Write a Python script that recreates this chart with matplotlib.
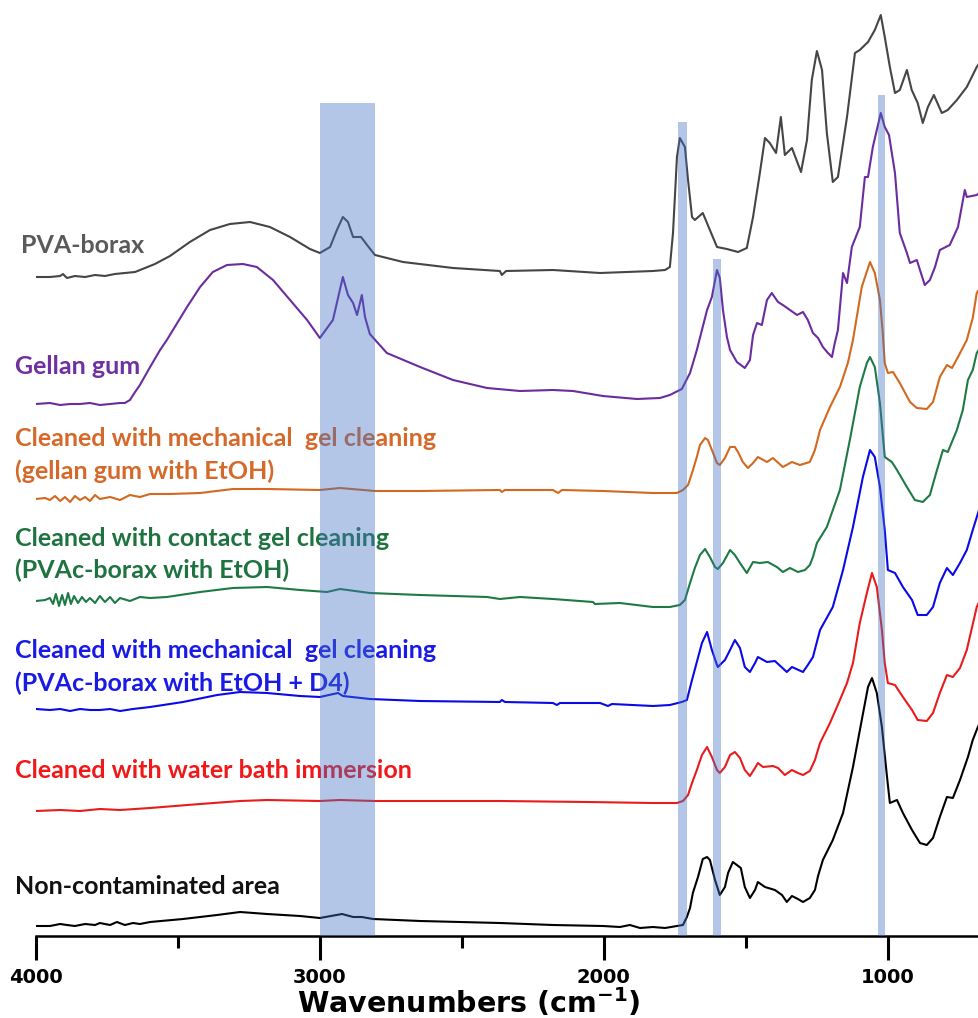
import matplotlib.pyplot as plt

# FTIR spectra; x = wavenumber (cm-1), y = absorbance (a.u., already offset for stacking)
pva_wn = [4000, 3951, 3915, 3905, 3891, 3863, 3827, 3792, 3757, 3722, 3687, 3651, 3616, 3581, 3528, 3458, 3387,
          3317, 3246, 3176, 3105, 3035, 3000, 2964, 2940, 2919, 2901, 2883, 2869, 2855, 2831, 2806, 2707, 2531,
          2366, 2359, 2344, 2179, 2013, 1827, 1784, 1767, 1756, 1742, 1732, 1714, 1703, 1689, 1679, 1651, 1626,
          1601, 1566, 1527, 1496, 1474, 1450, 1432, 1415, 1393, 1376, 1362, 1337, 1305, 1284, 1267, 1249, 1231,
          1214, 1193, 1175, 1143, 1115, 1098, 1069, 1045, 1024, 1010, 992, 974, 957, 932, 915, 894, 876, 858,
          837, 809, 788, 756, 721, 686, 657]
pva_ab = [659, 659, 660, 662, 658, 660, 659, 661, 660, 662, 663, 664, 668, 672, 680, 694, 706,
          712, 714, 709, 699, 687, 683, 689, 706, 719, 714, 699, 699, 699, 690, 681, 674, 668,
          665, 661, 665, 666, 663, 665, 666, 669, 703, 779, 798, 789, 756, 719, 716, 723, 706,
          689, 687, 684, 688, 719, 763, 798, 793, 783, 819, 781, 788, 764, 796, 856, 885, 866,
          803, 754, 759, 819, 883, 886, 894, 906, 921, 899, 869, 843, 846, 866, 846, 833, 813, 829,
          841, 823, 826, 836, 849, 869, 881]

gellan_wn = [4000, 3951, 3915, 3880, 3845, 3810, 3775, 3739, 3704, 3687, 3669, 3658, 3634, 3598, 3563, 3539,
             3468, 3422, 3377, 3327, 3271, 3222, 3165, 3105, 3045, 3000, 2954, 2919, 2901, 2883, 2869, 2852,
             2841, 2824, 2764, 2647, 2531, 2411, 2295, 2179, 2108, 2003, 1883, 1802, 1767, 1725, 1696, 1672,
             1654, 1636, 1619, 1601, 1591, 1580, 1566, 1555, 1531, 1503, 1485, 1474, 1460, 1443, 1425, 1408,
             1386, 1369, 1344, 1319, 1298, 1281, 1263, 1245, 1228, 1210, 1196, 1186, 1175, 1157, 1143, 1126,
             1098, 1080, 1069, 1052, 1024, 1010, 995, 974, 957, 932, 921, 897, 886, 869, 851, 833, 816, 781,
             752, 728, 721, 686, 657]
gellan_ab = [532, 533, 531, 532, 532, 533, 531, 532, 533, 533, 536, 541, 551, 569, 586, 596,
             629, 649, 664, 671, 672, 669, 656, 636, 616, 598, 616, 659, 641, 633, 621, 641,
             619, 602, 583, 569, 556, 548, 545, 546, 545, 540, 537, 538, 541, 547, 563, 586,
             606, 626, 639, 666, 658, 626, 599, 586, 574, 568, 576, 601, 613, 611, 636, 643,
             634, 631, 626, 621, 624, 616, 603, 598, 589, 583, 579, 593, 606, 663, 653, 689,
             709, 759, 759, 789, 823, 809, 801, 763, 703, 683, 673, 676, 666, 651, 656, 669, 686, 691,
             709, 746, 739, 741, 748]

mech_gg_wn = [4000, 3968, 3951, 3933, 3915, 3898, 3880, 3863, 3845, 3827, 3810, 3792, 3775, 3739, 3704, 3669,
              3634, 3598, 3528, 3422, 3306, 3186, 3000, 2929, 2806, 2647, 2366, 2359, 2348, 2179, 2161, 2147,
              2003, 1827, 1742, 1721, 1703, 1689, 1672, 1661, 1643, 1633, 1619, 1601, 1591, 1573, 1555, 1538,
              1527, 1510, 1492, 1474, 1457, 1425, 1404, 1369, 1337, 1309, 1274, 1256, 1238, 1203, 1168, 1140,
              1122, 1091, 1062, 1045, 1027, 1017, 1010, 999, 981, 957, 921, 897, 862, 840, 816, 791, 773, 752,
              721, 700, 686, 657]
mech_gg_ab = [437, 438, 436, 440, 435, 439, 434, 440, 436, 439, 435, 441, 437, 439, 436, 441,
              439, 442, 442, 443, 447, 447, 446, 448, 445, 445, 446, 444, 446, 446, 443, 446,
              445, 443, 443, 446, 451, 463, 479, 491, 498, 496, 486, 473, 471, 478, 489, 489,
              484, 474, 468, 473, 479, 474, 478, 469, 474, 471, 474, 486, 506, 529, 549, 573,
              596, 649, 674, 663, 636, 603, 573, 563, 564, 553, 534, 528, 527, 534, 559, 571, 568, 579,
              596, 618, 643, 656]

contact_wn = [4000, 3968, 3951, 3940, 3930, 3919, 3908, 3898, 3887, 3877, 3866, 3852, 3838, 3824, 3810, 3792,
              3775, 3757, 3739, 3722, 3704, 3669, 3634, 3598, 3539, 3422, 3306, 3186, 3070, 2975, 2929, 2824,
              2647, 2411, 2366, 2295, 2179, 2038, 2031, 1943, 1827, 1767, 1732, 1714, 1696, 1679, 1661, 1643,
              1626, 1608, 1598, 1580, 1555, 1538, 1520, 1496, 1474, 1450, 1422, 1390, 1369, 1344, 1316, 1291,
              1274, 1263, 1249, 1214, 1168, 1133, 1098, 1073, 1062, 1045, 1027, 1010, 985, 967, 932, 904, 876,
              851, 826, 805, 788, 756, 735, 717, 700, 686, 657]
contact_ab = [335, 336, 338, 332, 342, 330, 341, 331, 343, 332, 340, 333, 339, 334, 338, 333,
              340, 334, 339, 333, 338, 335, 339, 338, 339, 344, 348, 349, 346, 344, 347, 343,
              341, 339, 337, 339, 337, 334, 332, 333, 329, 329, 331, 336, 353, 368, 381, 387,
              379, 369, 367, 373, 386, 381, 373, 363, 374, 373, 374, 369, 364, 368, 364, 366,
              371, 379, 393, 409, 446, 496, 549, 573, 579, 569, 533, 479, 474, 466, 449, 436, 434,
              441, 466, 486, 484, 506, 526, 556, 566, 583, 596]

mech_d4_wn = [4000, 3951, 3915, 3880, 3845, 3810, 3775, 3739, 3704, 3658, 3598, 3482, 3362, 3281, 3186, 3070,
              3000, 2936, 2919, 2824, 2647, 2366, 2359, 2348, 2179, 2165, 2154, 2013, 1985, 1971, 1827, 1767,
              1725, 1707, 1689, 1672, 1654, 1636, 1619, 1601, 1598, 1573, 1555, 1538, 1520, 1503, 1485, 1467,
              1457, 1425, 1397, 1355, 1337, 1298, 1281, 1263, 1238, 1193, 1157, 1122, 1087, 1062, 1045, 1027,
              1010, 999, 974, 946, 914, 894, 862, 840, 816, 791, 770, 745, 721, 700, 678, 657]
mech_d4_ab = [227, 226, 227, 225, 227, 226, 226, 227, 225, 227, 229, 234, 241, 244, 243, 240,
              239, 243, 240, 237, 235, 234, 236, 234, 233, 231, 233, 233, 230, 232, 230, 231,
              234, 236, 256, 274, 293, 304, 286, 271, 269, 276, 286, 296, 288, 269, 264, 273,
              279, 274, 275, 264, 269, 264, 271, 279, 306, 329, 366, 409, 459, 486, 479, 449,
              406, 366, 363, 349, 336, 321, 321, 329, 353, 368, 361, 373, 386, 406, 426, 441]

water_wn = [4000, 3915, 3845, 3775, 3704, 3598, 3422, 3281, 3186, 3000, 2929, 2806, 2366, 2059, 1827, 1742,
            1721, 1703, 1689, 1672, 1654, 1636, 1619, 1601, 1591, 1573, 1555, 1538, 1520, 1503, 1485, 1467,
            1457, 1439, 1404, 1386, 1362, 1337, 1316, 1298, 1274, 1256, 1238, 1203, 1168, 1143, 1122, 1098,
            1073, 1055, 1038, 1020, 1010, 999, 974, 946, 914, 894, 862, 840, 816, 791, 770, 745, 721, 686, 657]
water_ab = [125, 126, 125, 127, 126, 128, 132, 135, 136, 135, 136, 135, 135, 134, 133, 133,
            135, 141, 153, 166, 181, 189, 179, 166, 163, 169, 181, 184, 178, 166, 160, 168,
            173, 169, 170, 168, 161, 166, 163, 161, 165, 176, 193, 213, 236, 253, 273, 313,
            343, 363, 349, 306, 273, 253, 251, 239, 226, 216, 215, 223, 243, 261, 259, 268, 286, 329, 346]

clean_wn = [4000, 3951, 3915, 3891, 3863, 3827, 3792, 3775, 3739, 3715, 3687, 3658, 3634, 3598, 3482, 3362,
            3281, 3186, 3070, 3000, 2922, 2883, 2852, 2813, 2647, 2366, 2179, 2003, 1943, 1908, 1872, 1827,
            1784, 1742, 1721, 1707, 1696, 1686, 1668, 1651, 1636, 1626, 1608, 1591, 1573, 1562, 1545, 1531,
            1517, 1503, 1485, 1467, 1457, 1432, 1397, 1372, 1355, 1337, 1316, 1298, 1274, 1256, 1245, 1228,
            1193, 1157, 1122, 1091, 1069, 1055, 1038, 1020, 1002, 992, 967, 946, 914, 886, 862, 840, 816,
            791, 770, 745, 717, 700, 682, 657]
clean_ab = [10, 10, 12, 11, 10, 12, 11, 13, 11, 14, 11, 13, 12, 14, 17, 21,
            24, 22, 20, 18, 22, 19, 19, 17, 15, 13, 11, 10, 9, 11, 8, 9,
            8, 10, 11, 19, 28, 43, 59, 77, 79, 76, 56, 41, 49, 63, 74, 71,
            68, 49, 38, 46, 54, 49, 46, 41, 34, 40, 37, 34, 38, 46, 60, 76,
            96, 123, 169, 216, 249, 258, 243, 209, 159, 133, 136, 123, 106, 93, 91, 98, 119,
            139, 138, 156, 179, 196, 209, 224]

series = [
    (pva_wn, pva_ab, '#454545'),
    (gellan_wn, gellan_ab, '#6a2c9e'),
    (mech_gg_wn, mech_gg_ab, '#d2691e'),
    (contact_wn, contact_ab, '#1e7a45'),
    (mech_d4_wn, mech_d4_ab, '#0a0ae6'),
    (water_wn, water_ab, '#e81c1c'),
    (clean_wn, clean_ab, '#000000'),
]

# label text, colour, left edge and vertical centre in pixels
labels = [
    ("PVA-borax", '#5a5a5a', 21, 246),
    ("Gellan gum", '#7030a0', 15, 366),
    ("Cleaned with mechanical  gel cleaning", '#d4692a', 15, 438),
    ("(gellan gum with EtOH)", '#d4692a', 15, 471),
    ("Cleaned with contact gel cleaning", '#1e7341', 15, 538),
    ("(PVAc-borax with EtOH)", '#1e7341', 15, 570),
    ("Cleaned with mechanical  gel cleaning", '#1a1ae6', 15, 650),
    ("(PVAc-borax with EtOH + D4)", '#1a1ae6', 15, 683),
    ("Cleaned with water bath immersion", '#f01818', 15, 771),
    ("Non-contaminated area", '#111111', 15, 886),
]

# highlighted bands: from, to (cm-1), top (a.u.)
bands = [(3000, 2805, 833), (1740, 1708, 814), (1614, 1588, 677), (1035, 1008, 841)]

W, H = 979, 1018
fig = plt.figure(figsize=(W / 100, H / 100), dpi=100)
ax = fig.add_axes([36 / W, 82 / H, 943 / W, 936 / H])

for wn, ab, c in series:
    ax.plot(wn, ab, color=c, lw=1.5, zorder=3, solid_joinstyle='round')

for x0, x1, top in bands:
    ax.fill_between([x0, x1], 0, top, color='#4472c4', alpha=0.4, lw=0, zorder=5)

for txt, c, px, py in labels:
    ax.text(px / W, 1 - py / H, txt, transform=fig.transFigure, color=c,
            fontsize=18, fontweight='bold', family='Lato', va='center', ha='left', zorder=2)

ax.set_xlim(4000, 678)
ax.set_ylim(0, 936)
for s in ['left', 'right', 'top']:
    ax.spines[s].set_visible(False)
ax.spines['bottom'].set_linewidth(1.8)
ax.set_yticks([])
ax.set_xticks([4000, 3000, 2000, 1000])
ax.set_xticks([3500, 2500, 1500], minor=True)
ax.tick_params(axis='x', which='major', length=17, width=2.2, direction='out', pad=6)
ax.tick_params(axis='x', which='minor', length=8.5, width=2.2, direction='out')
for lab in ax.get_xticklabels():
    lab.set_fontweight('bold')
    lab.set_fontsize(14)
    lab.set_family('DejaVu Sans')

fig.text(469 / W, 5 / H, r'Wavenumbers (cm$^{\mathbf{-1}}$)', ha='center', va='baseline',
         fontsize=20.5, fontweight='bold', family='DejaVu Sans')

fig.savefig('out.png', dpi=100, facecolor='white')
